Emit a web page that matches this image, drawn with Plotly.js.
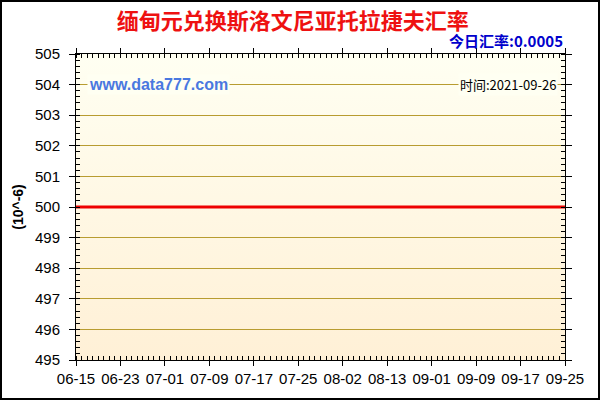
<!DOCTYPE html>
<html>
<head>
<meta charset="utf-8">
<script src="https://cdn.plot.ly/plotly-3.0.1.min.js"></script>
<style>
  body { margin: 0; background: #fff; }
  #wrap { position: relative; width: 600px; height: 400px; }
  #bg { position: absolute; left: 76px; top: 54px; width: 489px; height: 306px;
        background: linear-gradient(to bottom, #fffff2, #fff0d6); }
  #chart { position: absolute; left: 0; top: 0; width: 600px; height: 400px; }
  #frame { position: absolute; left: 0; top: 0; width: 600px; height: 400px;
           box-sizing: border-box; border: 2px solid #000; pointer-events: none; }
</style>
</head>
<body>
<div id="wrap">
  <div id="bg"></div>
  <div id="chart"></div>
  <div id="frame"></div>
</div>
<script>
// tick labels, one every 8 points
var tickLabels = ["06-15", "06-23", "07-01", "07-09", "07-17", "07-25",
                  "08-02", "08-13", "09-01", "09-09", "09-17", "09-25"];

// rate (10^-6), flat over the whole period
var rates = [500, 500, 500, 500, 500, 500, 500, 500,
             500, 500, 500, 500, 500, 500, 500, 500,
             500, 500, 500, 500, 500, 500, 500, 500,
             500, 500, 500, 500, 500, 500, 500, 500,
             500, 500, 500, 500, 500, 500, 500, 500,
             500, 500, 500, 500, 500, 500, 500, 500,
             500, 500, 500, 500, 500, 500, 500, 500,
             500, 500, 500, 500, 500, 500, 500, 500,
             500, 500, 500, 500, 500, 500, 500, 500,
             500, 500, 500, 500, 500, 500, 500, 500,
             500, 500, 500, 500, 500, 500, 500, 500,
             500];

var xs = rates.map(function (v, i) { return i; });
var tickPos = tickLabels.map(function (t, i) { return i * 8; });

var line = {
	x: xs,
	y: rates,
	type: 'scatter',
	mode: 'lines',
	hoverinfo: 'none',
	line: { color: '#ee0000', width: 3 }
};

var tickFont = { family: 'Liberation Sans, Arial, sans-serif', size: 15, color: '#000' };

var layout = {
	width: 600,
	height: 400,
	margin: { l: 76, r: 35, t: 54, b: 40 },
	paper_bgcolor: 'rgba(0,0,0,0)',
	plot_bgcolor: 'rgba(0,0,0,0)',
	showlegend: false,
	title: {
		text: '<b>缅甸元兑换斯洛文尼亚托拉捷夫汇率</b>',
		font: { family: 'Noto Sans CJK SC', size: 22, color: '#ee1111' },
		x: 0.488, xanchor: 'center',
		y: 0.948, yanchor: 'middle'
	},
	xaxis: {
		range: [0, 88],
		tickmode: 'array',
		tickvals: tickPos,
		ticktext: tickLabels,
		tickfont: tickFont,
		ticks: 'outside', ticklen: 5, tickcolor: '#000',
		minor: { dtick: 1, tick0: 0, ticks: 'inside', ticklen: 4, tickcolor: '#000', showgrid: false },
		showgrid: false, zeroline: false,
		showline: true, linecolor: '#000', linewidth: 1, mirror: 'ticks'
	},
	yaxis: {
		range: [495, 505],
		dtick: 1,
		tickfont: tickFont,
		ticklabelstandoff: 6,
		ticks: 'outside', ticklen: 6, tickcolor: '#000',
		minor: { dtick: 0.2, ticks: 'inside', ticklen: 4, tickcolor: '#000', showgrid: false },
		showgrid: true, gridcolor: '#b89c30', gridwidth: 1,
		zeroline: false,
		showline: true, linecolor: '#000', linewidth: 1, mirror: 'ticks',
		title: {
			text: '<b>(10^-6)</b>',
			font: { family: 'Liberation Sans, Arial, sans-serif', size: 14, color: '#000' },
			standoff: 8
		}
	},
	annotations: [
		{
			text: '<b>今日汇率:0.0005</b>',
			xref: 'paper', yref: 'paper', x: 1, y: 1.003,
			xanchor: 'right', yanchor: 'bottom', showarrow: false,
			font: { family: 'Noto Sans CJK SC', size: 15, color: '#0000cc' }
		},
		{
			text: '<b>www.data777.com</b>',
			xref: 'paper', yref: 'y', x: 0.022, y: 504,
			xanchor: 'left', yanchor: 'middle', showarrow: false,
			bgcolor: '#fffff2', borderpad: 1,
			font: { family: 'Liberation Sans, Arial, sans-serif', size: 16, color: '#4a78e0' }
		},
		{
			text: '时间:2021-09-26',
			xref: 'paper', yref: 'y', x: 0.985, y: 504,
			xanchor: 'right', yanchor: 'middle', showarrow: false,
			bgcolor: '#fffff2', borderpad: 1,
			font: { family: 'Noto Sans CJK SC', size: 13, color: '#000' }
		}
	]
};

Plotly.newPlot('chart', [line], layout, { staticPlot: true });
</script>
</body>
</html>
